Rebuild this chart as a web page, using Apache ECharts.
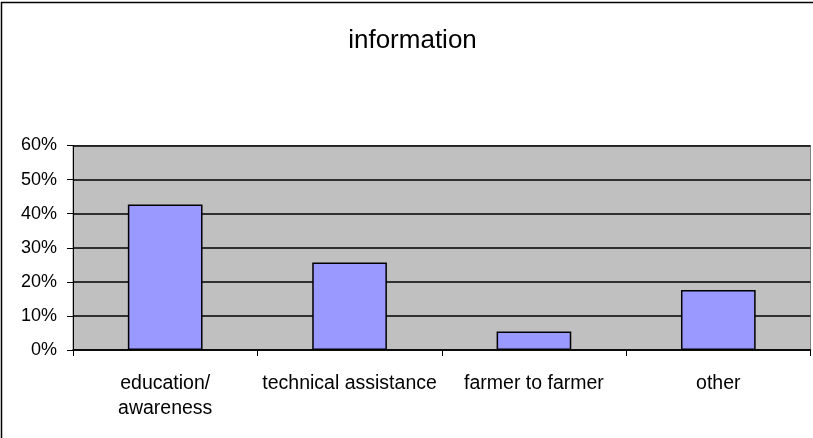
<!DOCTYPE html>
<html>
<head>
<meta charset="utf-8">
<script src="https://cdn.jsdelivr.net/npm/echarts@6/dist/echarts.min.js"></script>
<style>
html,body{margin:0;padding:0;background:#fff;}
#chart{width:813px;height:438px;}
</style>
</head>
<body>
<div id="chart"></div>
<script>
const titleText = 'information';
const categories = ['education/\nawareness', 'technical assistance', 'farmer to farmer', 'other'];
const values = [0.427, 0.257, 0.054, 0.176];
const yTicks = [0, 0.1, 0.2, 0.3, 0.4, 0.5, 0.6];

const chart = echarts.init(document.getElementById('chart'), null, {renderer: 'canvas'});
const font = 'Liberation Sans, Arial, sans-serif';
chart.setOption({
  animation: false,
  backgroundColor: '#ffffff',
  title: {
    text: titleText,
    left: 407.5, top: 23,
    textAlign: 'center',
    textStyle: {fontFamily: font, fontSize: 26, fontWeight: 'normal', color: '#000'}
  },
  graphic: [{
    type: 'rect', silent: true, z: -1,
    shape: {x: 1.5, y: 2.5, width: 830, height: 460},
    style: {fill: 'none', stroke: '#000', lineWidth: 1.5}
  }],
  grid: {
    left: 73, right: 2.5, top: 145.5, bottom: 88,
    show: true, backgroundColor: '#c0c0c0', borderColor: '#808080', borderWidth: 1
  },
  xAxis: {
    type: 'category',
    data: categories,
    axisLine: {lineStyle: {color: '#000', width: 1.5}},
    axisTick: {show: true, length: 6, lineStyle: {color: '#000'}},
    axisLabel: {fontFamily: font, fontSize: 19.5, color: '#000', margin: 21, lineHeight: 25, interval: 0}
  },
  yAxis: {
    type: 'value',
    min: yTicks[0], max: yTicks[yTicks.length - 1], interval: 0.1,
    axisLine: {show: true, lineStyle: {color: '#000', width: 1}},
    axisTick: {show: true, length: 6, lineStyle: {color: '#000'}},
    splitLine: {show: true, lineStyle: {color: '#000', width: 1.5}},
    axisLabel: {
      fontFamily: font, fontSize: 18, color: '#000', margin: 16,
      formatter: v => Math.round(v * 100) + '%'
    }
  },
  series: [{
    type: 'bar',
    data: values,
    barWidth: '40.5%',
    itemStyle: {color: '#9999ff', borderColor: '#000', borderWidth: 1.5}
  }]
});
</script>
</body>
</html>
